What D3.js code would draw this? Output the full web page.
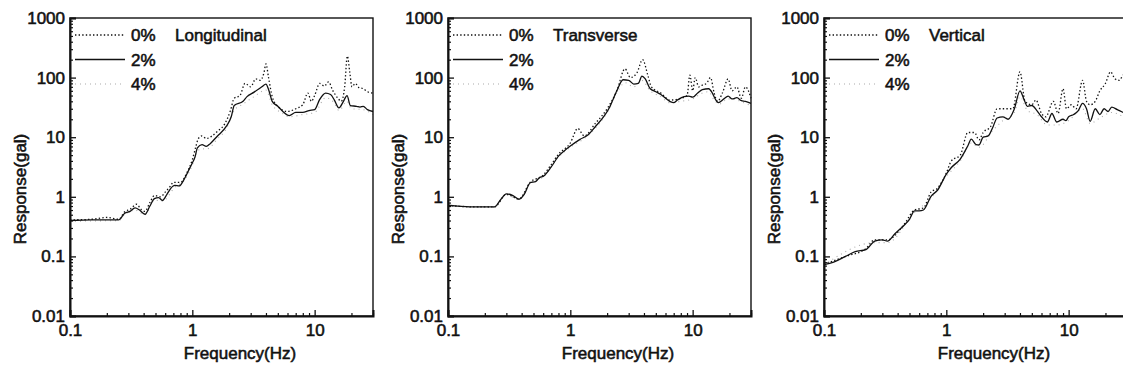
<!DOCTYPE html>
<html>
<head>
<meta charset="utf-8">
<script src="https://cdn.jsdelivr.net/npm/d3@7"></script>
<style>
  html, body { margin: 0; padding: 0; background: #fff; }
  svg text { font-family: "Liberation Sans", Arial, sans-serif; fill: #111; }
</style>
</head>
<body>
<svg id="chart" width="1123" height="383"></svg>
<script>
// Frequency (Hz) / response (gal) pairs
const long0 = [[0.1,0.41],[0.15,0.42],[0.2,0.45],[0.25,0.42],[0.28,0.56],[0.31,0.62],[0.35,0.75],[0.38,0.62],[0.41,0.57],[0.45,0.8],[0.49,1.05],[0.55,1.0],[0.6,1.2],[0.66,1.5],[0.7,1.75],[0.8,1.75],[0.9,2.5],[1.0,4.2],[1.07,7],[1.12,9.5],[1.2,10.5],[1.3,9.5],[1.45,10.5],[1.6,12.5],[1.85,17],[2.05,28],[2.2,45],[2.45,50],[2.7,80],[3.0,70],[3.3,95],[3.6,90],[3.85,120],[4.0,170],[4.2,100],[4.5,48],[5,33],[6,27],[7,30],[8,35],[8.8,55],[9.4,40],[10,50],[11,80],[12,72],[13,85],[14,62],[15.5,45],[16.5,40],[17.6,70],[18.5,230],[19.4,120],[20.2,70],[21.5,80],[23,68],[25,65],[27,58],[30,55]];
const long2 = [[0.1,0.40],[0.15,0.41],[0.2,0.41],[0.25,0.41],[0.28,0.53],[0.31,0.57],[0.34,0.65],[0.37,0.6],[0.41,0.51],[0.45,0.7],[0.49,0.93],[0.53,0.97],[0.57,0.87],[0.62,1.1],[0.66,1.35],[0.72,1.55],[0.78,1.52],[0.86,2.0],[0.95,3.0],[1.0,3.7],[1.05,4.6],[1.1,6.6],[1.2,7.5],[1.3,7.0],[1.4,7.8],[1.6,10.4],[1.9,15.3],[2.08,22],[2.2,34],[2.6,40],[2.8,48],[3.2,57],[3.7,70],[4.0,78],[4.2,63],[4.5,40],[5.0,33],[5.5,27],[6.2,23],[7,26],[8,26],[9,28],[10,29],[11,43],[12.3,55],[13.5,52],[14.5,42],[15.8,31],[17.2,40],[18.4,50],[19.6,34],[22,33],[23.5,32],[25,33],[27,29],[30,27]];
const long4 = [[0.1,0.39],[0.25,0.4],[0.28,0.5],[0.34,0.6],[0.41,0.5],[0.49,0.88],[0.57,0.84],[0.72,1.45],[0.86,1.9],[1.0,3.4],[1.1,5.8],[1.2,6.4],[1.3,6.3],[1.6,9.3],[1.9,14],[2.2,28],[2.6,36],[3.2,48],[4.0,62],[4.5,35],[5.5,25],[6.2,22],[8,24],[10,26],[12.3,46],[14.5,37],[15.8,28],[18.4,40],[20,30],[25,29],[30,24]];

const trans0 = [[0.1,0.72],[0.15,0.68],[0.24,0.68],[0.3,1.1],[0.38,0.92],[0.47,1.75],[0.6,2.3],[0.7,3.5],[0.8,5.2],[1.0,8],[1.15,14],[1.3,10.5],[1.6,17],[2.0,30],[2.4,60],[2.8,140],[3.1,100],[3.5,120],[3.9,200],[4.3,110],[4.6,70],[5.5,55],[6.5,42],[8,45],[9,50],[9.5,110],[10,60],[10.5,100],[11.2,70],[12,75],[13,80],[14,100],[15,55],[16,40],[17.5,55],[19.5,95],[21,60],[23,70],[25,45],[27,70],[30,45]];
const trans2 = [[0.1,0.72],[0.12,0.7],[0.15,0.68],[0.2,0.68],[0.24,0.68],[0.27,0.9],[0.3,1.12],[0.34,1.05],[0.38,0.91],[0.42,1.1],[0.47,1.72],[0.52,1.8],[0.56,2.1],[0.6,2.2],[0.7,3.2],[0.8,4.8],[0.9,6.0],[1.0,7.1],[1.2,9.2],[1.4,11],[1.6,15],[1.9,23],[2.1,32],[2.2,40],[2.4,60],[2.7,92],[3.0,90],[3.3,78],[3.6,80],[3.85,106],[4.1,95],[4.5,65],[5.0,58],[5.5,52],[6.5,40],[7,38],[7.5,42],[8.5,48],[9.3,49],[10,47],[11,55],[12,63],[13.5,65],[14.5,55],[15.2,45],[16.2,38],[18,44],[19.5,49],[21,44],[23,46],[25,41],[27,40],[30,37]];
const trans4 = [[0.1,0.72],[0.24,0.67],[0.3,1.08],[0.38,0.9],[0.47,1.7],[0.6,2.15],[0.8,4.6],[1.0,6.8],[1.3,9.5],[1.6,14],[2.0,26],[2.4,55],[2.8,82],[3.3,70],[3.85,90],[4.5,60],[5.5,48],[6.5,38],[8,40],[10,44],[12,55],[13.5,58],[15,42],[16.5,36],[19.5,44],[23,42],[27,37],[30,34]];

const vert0 = [[0.1,0.074],[0.15,0.10],[0.22,0.135],[0.26,0.19],[0.33,0.19],[0.45,0.34],[0.55,0.6],[0.65,0.65],[0.75,1.2],[0.85,1.4],[1.0,2.5],[1.1,4],[1.3,5],[1.5,12],[1.7,12],[1.85,9],[2.0,12],[2.3,15],[2.6,30],[3.0,30],[3.5,30],[4.0,125],[4.4,40],[5,35],[5.4,42],[6,25],[6.5,22],[7.5,40],[8.2,25],[9,65],[9.6,30],[10.5,35],[11.5,30],[13,90],[14,40],[15,35],[16.5,40],[18,60],[20,80],[22,125],[24,95],[26,90],[28,110],[30,90]];
const vert2 = [[0.1,0.073],[0.12,0.08],[0.15,0.10],[0.18,0.12],[0.22,0.13],[0.26,0.18],[0.3,0.19],[0.33,0.18],[0.38,0.24],[0.45,0.33],[0.5,0.42],[0.55,0.58],[0.6,0.58],[0.65,0.6],[0.75,1.02],[0.85,1.3],[1.0,2.4],[1.1,3.1],[1.3,4.3],[1.5,7.2],[1.6,9.3],[1.75,7.5],[1.85,7.4],[2.0,10],[2.2,10.5],[2.4,14.7],[2.6,21],[2.9,22],[3.2,20],[3.6,30],[4.0,60],[4.3,44],[4.6,33],[5.0,34],[5.5,28],[6.0,22],[6.7,18],[7.3,25],[8,18],[9,20],[9.5,19],[10,22],[11,24],[12,28],[13,37],[14,30],[15,18.5],[16.5,30],[18,24],[19.5,30],[21,27],[22.5,32],[25,29],[28,26],[30,25]];
const vert4 = [[0.1,0.072],[0.26,0.17],[0.33,0.17],[0.55,0.55],[0.75,0.95],[1.0,2.2],[1.3,4.0],[1.6,8],[1.85,6.8],[2.4,13],[2.9,19],[3.6,26],[4.0,48],[4.6,28],[5.5,24],[6.7,16],[8,16],[10,19],[13,30],[15,17],[18,21],[22.5,26],[30,20]];

const legendLabels = ['0%', '2%', '4%'];
const xTicks = [0.1, 1, 10];
const yTicks = [0.01, 0.1, 1, 10, 100, 1000];

const panels = [
  { title: 'Longitudinal', series: [long0, long2, long4], left: 70 },
  { title: 'Transverse', series: [trans0, trans2, trans4], left: 448 },
  { title: 'Vertical', series: [vert0, vert2, vert4], left: 824 }
];

const styles = [
  { stroke: '#111', width: 1.3, dash: '1.4 2.2' },
  { stroke: '#111', width: 1.3, dash: null },
  { stroke: '#aaa', width: 1.1, dash: '1 4' }
];

const svg = d3.select('#chart');
const marginTop = 18, innerW = 303, innerH = 298;
const textStroke = 0.55;

const xScale = d3.scaleLog().domain([0.1, 30]).range([0, innerW]);
const yScale = d3.scaleLog().domain([0.01, 1000]).range([innerH, 0]);

const minorX = [];
const minorY = [];
[0.1, 1, 10].forEach(d => { for (let k = 2; k <= 9; k++) if (d * k <= 30) minorX.push(d * k); });
[0.01, 0.1, 1, 10, 100].forEach(d => { for (let k = 2; k <= 9; k++) minorY.push(d * k); });

const fmt = d => String(+d.toPrecision(3));

const line = d3.line()
  .x(d => xScale(d[0]))
  .y(d => yScale(d[1]))
  .curve(d3.curveMonotoneX);

panels.forEach(p => {
  const g = svg.append('g').attr('transform', `translate(${p.left},${marginTop})`);

  // Curves (4% underneath, 0% on top)
  [2, 1, 0].forEach(i => {
    const st = styles[i];
    g.append('path')
      .datum(p.series[i])
      .attr('fill', 'none')
      .attr('stroke', st.stroke)
      .attr('stroke-width', st.width)
      .attr('stroke-dasharray', st.dash)
      .attr('d', line);
  });

  // Frame
  g.append('rect')
    .attr('width', innerW).attr('height', innerH)
    .attr('fill', 'none').attr('stroke', '#111').attr('stroke-width', 1.4);

  // Minor ticks
  g.append('g')
    .call(d3.axisLeft(yScale).tickValues(minorY).tickSize(-3).tickFormat(''))
    .call(a => a.select('.domain').remove())
    .selectAll('line').attr('stroke', '#111').attr('stroke-width', 1.2);
  g.append('g')
    .attr('transform', `translate(0,${innerH})`)
    .call(d3.axisBottom(xScale).tickValues(minorX).tickSize(-3).tickFormat(''))
    .call(a => a.select('.domain').remove())
    .selectAll('line').attr('stroke', '#111').attr('stroke-width', 1.2);

  // Major ticks and labels
  const ya = g.append('g')
    .call(d3.axisLeft(yScale).tickValues(yTicks).tickSize(-6).tickPadding(5).tickFormat(fmt));
  ya.select('.domain').attr('stroke', '#111').attr('stroke-width', 2);
  ya.selectAll('line').attr('stroke', '#111').attr('stroke-width', 1.3);

  const xa = g.append('g')
    .attr('transform', `translate(0,${innerH})`)
    .call(d3.axisBottom(xScale).tickValues(xTicks).tickSize(-6).tickPadding(8).tickFormat(fmt));
  xa.select('.domain').attr('stroke', '#111').attr('stroke-width', 2);
  xa.selectAll('line').attr('stroke', '#111').attr('stroke-width', 1.3);

  g.selectAll('.tick text')
    .attr('font-size', '17px')
    .attr('fill', '#111')
    .attr('stroke', '#111').attr('stroke-width', textStroke)
    .style('font-family', '"Liberation Sans", Arial, sans-serif');

  // Legend
  legendLabels.forEach((lab, i) => {
    const ly = 17 + i * 24.5;
    const st = styles[i];
    g.append('line')
      .attr('x1', 5).attr('x2', 55).attr('y1', ly).attr('y2', ly)
      .attr('stroke', st.stroke).attr('stroke-width', st.width)
      .attr('stroke-dasharray', st.dash);
    g.append('text')
      .attr('x', 61).attr('y', ly + 6)
      .attr('font-size', '17px')
      .attr('stroke', '#111').attr('stroke-width', textStroke)
      .text(lab);
  });
  g.append('text')
    .attr('x', 105).attr('y', 23)
    .attr('font-size', '17px')
    .attr('stroke', '#111').attr('stroke-width', textStroke)
    .text(p.title);

  // Axis titles
  g.append('text')
    .attr('transform', `translate(-44,${innerH / 2 + 22}) rotate(-90)`)
    .attr('text-anchor', 'middle')
    .attr('font-size', '17px')
    .attr('stroke', '#111').attr('stroke-width', textStroke)
    .text('Response(gal)');
  g.append('text')
    .attr('x', 170).attr('y', innerH + 43)
    .attr('text-anchor', 'middle')
    .attr('font-size', '17px')
    .attr('stroke', '#111').attr('stroke-width', textStroke)
    .text('Frequency(Hz)');
});
</script>
</body>
</html>
